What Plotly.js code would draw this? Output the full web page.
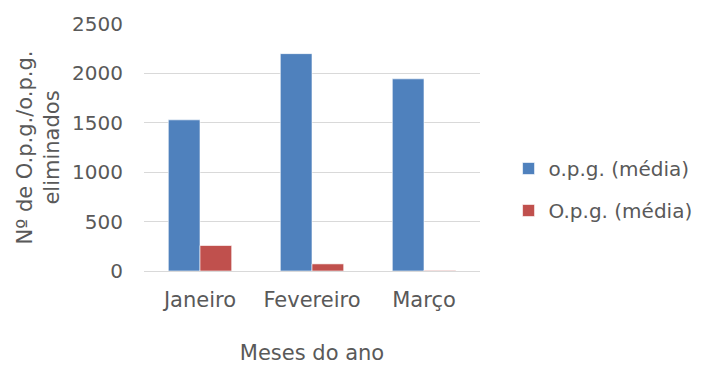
<!DOCTYPE html>
<html>
<head>
<meta charset="utf-8">
<script src="https://cdn.plot.ly/plotly-3.0.1.min.js"></script>
<style>html,body{margin:0;padding:0;background:#fff;}#chart{width:702px;height:365px;}</style>
</head>
<body>
<div id="chart"></div>
<script>
var months = ["Janeiro", "Fevereiro", "Março"];
var opgMedia = [1530, 2200, 1945];
var OpgMedia = [258, 72, 6];
var seriesNames = ["o.p.g. (média)", "O.p.g. (média)"];
var yTicks = [0, 500, 1000, 1500, 2000, 2500];

var FONT = "DejaVu Sans, sans-serif";
var GREY = "#595959";

var traces = [
  {type: "bar", x: months, y: opgMedia, name: seriesNames[0], legendgroup: "a",
   marker: {color: "#4f81bd", line: {color: "rgba(255,255,255,0.6)", width: 1}}},
  {type: "bar", x: months, y: OpgMedia, name: seriesNames[1], legendgroup: "b",
   marker: {color: "#c0504d", line: {color: "rgba(255,255,255,0.6)", width: 1}}}
];

var layout = {
  width: 702, height: 365,
  margin: {l: 144, r: 222, t: 24, b: 94, pad: 0, autoexpand: false},
  paper_bgcolor: "#fff", plot_bgcolor: "#fff",
  font: {family: FONT, color: GREY, size: 21},
  barmode: "group", bargap: 0.434, bargroupgap: 0,
  showlegend: true,
  legend: {x: 1.085, y: 0.33, xanchor: "left", yanchor: "middle", traceorder: "grouped",
           tracegroupgap: 13, font: {family: FONT, size: 20, color: GREY}, bgcolor: "rgba(0,0,0,0)"},
  xaxis: {type: "category", showgrid: false, showline: false, zeroline: false, ticks: "",
          ticklabelstandoff: 14,
          tickfont: {family: FONT, size: 21, color: GREY},
          title: {text: "Meses do ano", font: {family: FONT, size: 21, color: GREY}, standoff: 43}},
  yaxis: {range: [0, 2500], tickvals: yTicks, showgrid: true, gridcolor: "#d9d9d9", gridwidth: 1,
          zeroline: true, zerolinecolor: "#d9d9d9", zerolinewidth: 1, showline: false, ticks: "",
          ticklabelstandoff: 20,
          tickfont: {family: FONT, size: 20, color: GREY},
          title: {text: "Nº de O.p.g./o.p.g.<br>eliminados", font: {family: FONT, size: 21, color: GREY}, standoff: 6}}
};

Plotly.newPlot("chart", traces, layout, {displayModeBar: false, staticPlot: true});
</script>
</body>
</html>
